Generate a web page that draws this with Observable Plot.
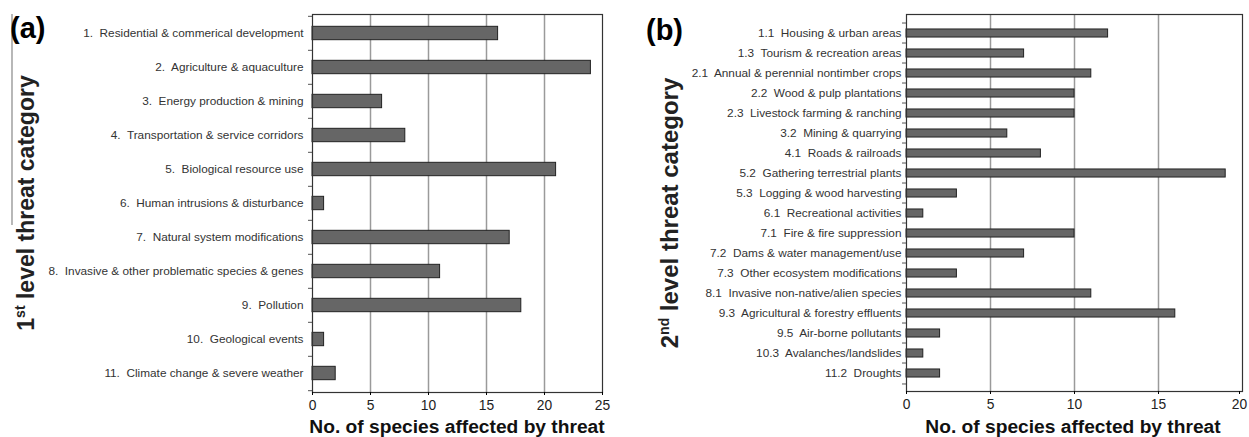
<!DOCTYPE html>
<html>
<head>
<meta charset="utf-8">
<script src="https://cdn.jsdelivr.net/npm/d3@7"></script>
<script src="https://cdn.jsdelivr.net/npm/@observablehq/plot@0.6"></script>
<style>
  html, body { margin: 0; padding: 0; background: #fff; }
  #wrap { position: relative; width: 1249px; height: 437px; overflow: hidden; font-family: "Liberation Sans", Arial, sans-serif; }
  #wrap svg text { white-space: pre; }
  .panel { position: absolute; top: 0; }
  #overlay { position: absolute; left: 0; top: 0; pointer-events: none; }
</style>
</head>
<body>
<div id="wrap">
  <div id="pa" class="panel" style="left:0"></div>
  <div id="pb" class="panel" style="left:620px"></div>
  <svg id="overlay" width="1249" height="437" font-family="Liberation Sans, Arial, sans-serif">
    <line x1="12" y1="14" x2="12" y2="225" stroke="#888" stroke-width="1.2"/>
    <text x="10" y="38" font-size="29" font-weight="bold" fill="#000">(a)</text>
    <text x="646" y="40" font-size="29" font-weight="bold" fill="#000">(b)</text>
    <text transform="translate(34,203) rotate(-90)" text-anchor="middle" font-size="23" font-weight="bold" fill="#222">1<tspan font-size="14" dy="-9">st</tspan><tspan dy="9"> level threat category</tspan></text>
    <text transform="translate(678,213) rotate(-90)" text-anchor="middle" font-size="24" font-weight="bold" fill="#222">2<tspan font-size="14" dy="-9">nd</tspan><tspan dy="9"> level threat category</tspan></text>
    <text x="457" y="433" text-anchor="middle" font-size="19.2" font-weight="bold" fill="#111">No. of species affected by threat</text>
    <text x="1073" y="433" text-anchor="middle" font-size="19.2" font-weight="bold" fill="#111">No. of species affected by threat</text>
  </svg>
</div>
<script>
// ---- Data ----
const catsA = [
  "1.  Residential & commerical development",
  "2.  Agriculture & aquaculture",
  "3.  Energy production & mining",
  "4.  Transportation & service corridors",
  "5.  Biological resource use",
  "6.  Human intrusions & disturbance",
  "7.  Natural system modifications",
  "8.  Invasive & other problematic species & genes",
  "9.  Pollution",
  "10.  Geological events",
  "11.  Climate change & severe weather"
];
const valsA = [16, 24, 6, 8, 21, 1, 17, 11, 18, 1, 2];
const xTicksA = [0, 5, 10, 15, 20, 25];

const catsB = [
  "1.1  Housing & urban areas",
  "1.3  Tourism & recreation areas",
  "2.1  Annual & perennial nontimber crops",
  "2.2  Wood & pulp plantations",
  "2.3  Livestock farming & ranching",
  "3.2  Mining & quarrying",
  "4.1  Roads & railroads",
  "5.2  Gathering terrestrial plants",
  "5.3  Logging & wood harvesting",
  "6.1  Recreational activities",
  "7.1  Fire & fire suppression",
  "7.2  Dams & water management/use",
  "7.3  Other ecosystem modifications",
  "8.1  Invasive non-native/alien species",
  "9.3  Agricultural & forestry effluents",
  "9.5  Air-borne pollutants",
  "10.3  Avalanches/landslides",
  "11.2  Droughts"
];
const valsB = [12, 7, 11, 10, 10, 6, 8, 19, 3, 1, 10, 7, 3, 11, 16, 2, 1, 2];
const xTicksB = [0, 5, 10, 15, 20];

function panel(cats, vals, ticks, opts) {
  const {width, height, ml, mr, mt, mb, pad, barFrac, lastDx} = opts;
  const data = cats.map((c, i) => ({cat: c, value: vals[i]}));
  const xmax = ticks[ticks.length - 1];
  const step = (height - mt - mb) / cats.length;
  const inset = step * (1 - barFrac) / 2;
  const pxPerUnit = (width - ml - mr) / xmax;
  const tickLen = 4 / pxPerUnit;
  const last = cats[cats.length - 1];
  const axisOpts = {tickSize: 3, tickPadding: 5, fontSize: 13.8, fill: "#222", label: null, tickFormat: d => String(d)};
  return Plot.plot({
    width, height,
    marginLeft: ml, marginRight: mr, marginTop: mt, marginBottom: mb,
    style: {fontFamily: "Liberation Sans, Arial, sans-serif", background: "transparent", overflow: "visible"},
    x: {domain: [0, xmax]},
    y: {domain: cats, padding: 0},
    marks: [
      Plot.gridX(ticks.slice(1, -1), {stroke: "#9a9a9a", strokeOpacity: 1, strokeWidth: 1.5}),
      Plot.barX(data, {x: "value", y: "cat", fill: "#666", stroke: "#222", strokeWidth: 1, insetTop: inset, insetBottom: inset}),
      Plot.ruleY(cats, {y: d => d, x1: -tickLen, x2: 0, dy: -step / 2, stroke: "#555"}),
      Plot.ruleY([last], {y: d => d, x1: -tickLen, x2: 0, dy: step / 2, stroke: "#555"}),
      Plot.frame({stroke: "#333", strokeWidth: 1.2}),
      Plot.axisY({tickSize: 0, tickPadding: pad, fontSize: 11.8, fill: "#333", label: null}),
      Plot.axisX({...axisOpts, ticks: ticks.slice(0, -1)}),
      Plot.axisX({...axisOpts, ticks: ticks.slice(-1), dx: lastDx})
    ]
  });
}

document.getElementById("pa").append(panel(catsA, valsA, xTicksA, {width: 620, height: 437, ml: 312, mr: 18, mt: 14, mb: 45, pad: 9, barFrac: 0.4, lastDx: 0}));
document.getElementById("pb").append(panel(catsB, valsB, xTicksB, {width: 629, height: 437, ml: 286, mr: 7, mt: 14, mb: 46, pad: 5, barFrac: 0.43, lastDx: -3}));
</script>
</body>
</html>
